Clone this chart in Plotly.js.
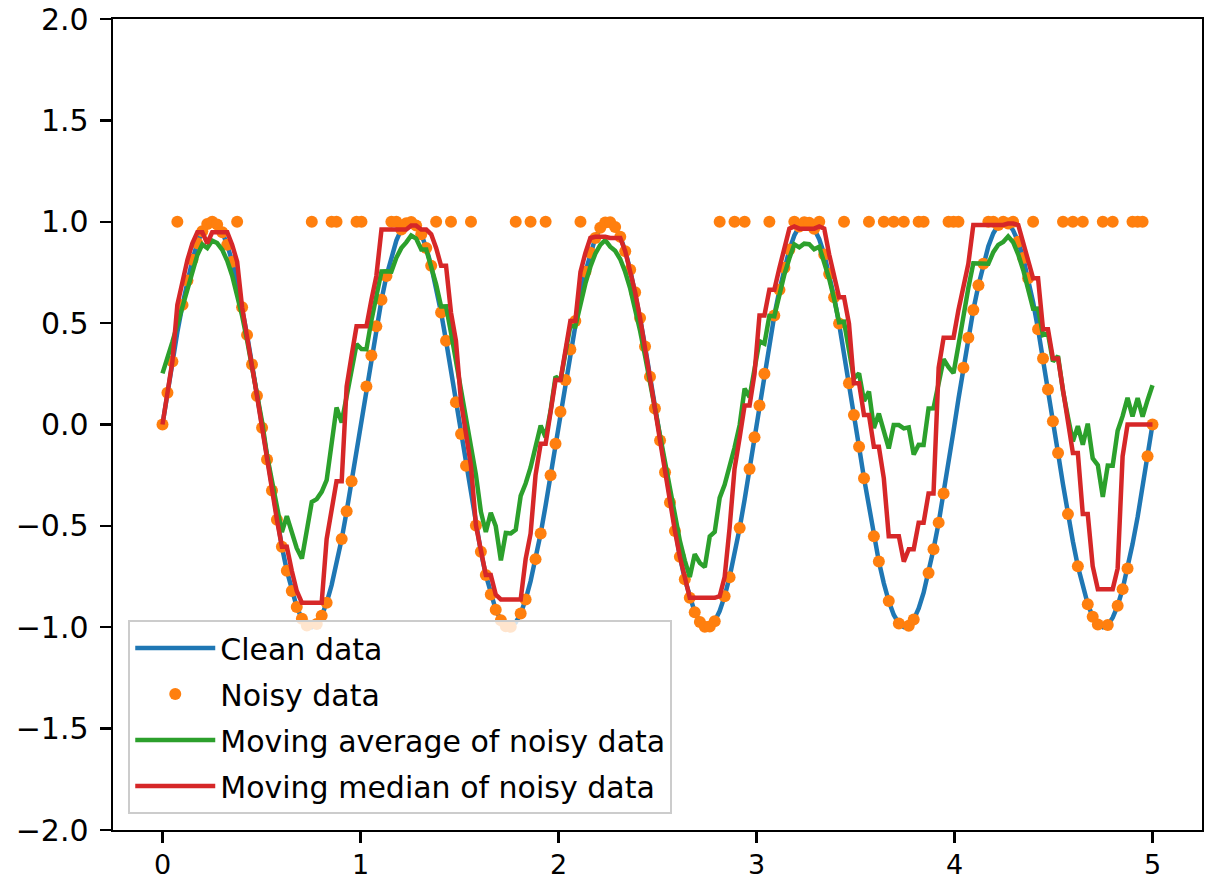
<!DOCTYPE html>
<html>
<head>
<meta charset="utf-8">
<script src="https://cdn.plot.ly/plotly-3.0.1.min.js"></script>
<style>html,body{margin:0;padding:0;background:#fff;}#chart{width:1214px;height:882px;}</style>
</head>
<body>
<div id="chart"></div>
<script>
// x positions of the samples (0 .. 5, 200 samples)
const xValues = [0,0.025,0.05,0.075,0.101,0.126,0.151,0.176,0.201,0.226,
0.251,0.276,0.302,0.327,0.352,0.377,0.402,0.427,0.452,0.477,
0.503,0.528,0.553,0.578,0.603,0.628,0.653,0.678,0.704,0.729,
0.754,0.779,0.804,0.829,0.854,0.879,0.905,0.93,0.955,0.98,
1.005,1.03,1.055,1.08,1.106,1.131,1.156,1.181,1.206,1.231,
1.256,1.281,1.307,1.332,1.357,1.382,1.407,1.432,1.457,1.482,
1.508,1.533,1.558,1.583,1.608,1.633,1.658,1.683,1.709,1.734,
1.759,1.784,1.809,1.834,1.859,1.884,1.91,1.935,1.96,1.985,
2.01,2.035,2.06,2.085,2.111,2.136,2.161,2.186,2.211,2.236,
2.261,2.286,2.312,2.337,2.362,2.387,2.412,2.437,2.462,2.487,
2.513,2.538,2.563,2.588,2.613,2.638,2.663,2.688,2.714,2.739,
2.764,2.789,2.814,2.839,2.864,2.889,2.915,2.94,2.965,2.99,
3.015,3.04,3.065,3.09,3.116,3.141,3.166,3.191,3.216,3.241,
3.266,3.291,3.317,3.342,3.367,3.392,3.417,3.442,3.467,3.492,
3.518,3.543,3.568,3.593,3.618,3.643,3.668,3.693,3.719,3.744,
3.769,3.794,3.819,3.844,3.869,3.894,3.92,3.945,3.97,3.995,
4.02,4.045,4.07,4.095,4.121,4.146,4.171,4.196,4.221,4.246,
4.271,4.296,4.322,4.347,4.372,4.397,4.422,4.447,4.472,4.497,
4.523,4.548,4.573,4.598,4.623,4.648,4.673,4.698,4.724,4.749,
4.774,4.799,4.824,4.849,4.874,4.899,4.925,4.95,4.975,5];

const cleanData = [0,.157,.311,.456,.590,.710,.812,.894,.953,.989,
1,.986,.948,.886,.803,.699,.578,.442,.296,.142,
-.016,-.173,-.325,-.470,-.603,-.721,-.821,-.900,-.958,-.991,
-1,-.984,-.943,-.879,-.793,-.687,-.565,-.428,-.280,-.126,
.032,.188,.340,.484,.615,.732,.830,.907,.962,.993,
.999,.981,.938,.871,.783,.676,.552,.413,.265,.110,
-.047,-.204,-.355,-.498,-.628,-.742,-.839,-.914,-.966,-.995,
-.998,-.977,-.932,-.863,-.773,-.664,-.538,-.399,-.250,-.095,
.063,.219,.370,.511,.640,.753,.847,.920,.970,.996,
.997,.974,.926,.855,.763,.652,.525,.385,.235,.079,
-.079,-.235,-.385,-.525,-.652,-.763,-.855,-.926,-.974,-.997,
-.996,-.970,-.920,-.847,-.753,-.640,-.511,-.370,-.219,-.063,
.094,.250,.399,.538,.664,.773,.863,.932,.977,.998,
.995,.966,.914,.839,.742,.628,.498,.355,.204,.047,
-.110,-.265,-.413,-.551,-.676,-.783,-.871,-.938,-.981,-.999,
-.993,-.962,-.907,-.830,-.732,-.615,-.484,-.340,-.188,-.032,
.126,.280,.428,.565,.687,.793,.879,.943,.984,1,
.991,.958,.901,.821,.721,.603,.470,.326,.173,.016,
-.141,-.295,-.442,-.577,-.699,-.803,-.886,-.948,-.986,-1,
-.989,-.953,-.894,-.812,-.710,-.591,-.456,-.311,-.157,0];

const noisyData = [0,.157,.311,1,.590,.710,.812,.894,.953,.989,
1,.986,.948,.886,.803,1,.578,.442,.296,.142,
-.016,-.173,-.325,-.470,-.603,-.721,-.821,-.900,-.958,-.991,
1,-.984,-.943,-.879,1,1,-.565,-.428,-.280,1,
1,.188,.340,.484,.615,.732,1,1,.962,.993,
.999,.981,.938,.871,.783,1,.552,.413,1,.110,
-.047,-.204,1,-.498,-.628,-.742,-.839,-.914,-.966,-.995,
-.998,1,-.932,-.863,1,-.664,-.538,1,-.250,-.095,
.063,.219,.370,.511,1,.753,.847,.920,.970,.996,
.997,.974,.926,.855,.763,.652,.525,.385,.235,.079,
-.079,-.235,-.385,-.525,-.652,-.763,-.855,-.926,-.974,-.997,
-.996,-.970,1,-.847,-.753,1,-.511,1,-.219,-.063,
.094,.250,1,.538,.664,.773,.863,1,.977,.998,
.995,.966,1,.839,.742,.628,.498,1,.204,.047,
-.110,-.265,1,-.551,-.676,1,-.871,1,-.981,1,
-.993,-.962,1,1,-.732,-.615,-.484,-.340,1,1,
1,.280,.428,.565,.687,.793,1,1,.984,1,
.991,1,.901,.821,.721,1,.470,.326,.173,.016,
-.141,1,-.442,1,-.699,1,-.886,-.948,-.986,1,
-.989,1,-.894,-.812,-.710,1,1,1,-.157,0];

const movingAverage = [.252,.325,.407,.493,.583,.674,.764,.836,.888,.870,
.907,.895,.861,.807,.734,.642,.536,.416,.287,.152,
.013,-.152,-.286,-.414,-.531,-.452,-.540,-.610,-.661,-.527,
-.382,-.368,-.332,-.275,-.097,.084,.010,.130,.261,.396,
.372,.371,.513,.640,.755,.756,.754,.822,.870,.898,
.932,.917,.863,.863,.785,.691,.582,.583,.453,.316,
.178,.011,-.122,-.248,-.430,-.530,-.435,-.501,-.670,-.535,
-.537,-.519,-.352,-.291,-.212,-.116,-.005,-.063,.068,.237,
.215,.353,.486,.483,.596,.696,.778,.842,.886,.909,
.877,.857,.815,.752,.671,.574,.462,.339,.207,.070,
-.070,-.207,-.339,-.462,-.574,-.671,-.752,-.640,-.683,-.703,
-.552,-.530,-.362,-.297,-.215,-.115,-.002,.177,.135,.273,
.411,.399,.536,.534,.645,.741,.820,.889,.874,.892,
.889,.864,.877,.804,.719,.619,.504,.507,.366,.228,
.252,.116,.162,-.018,.054,-.041,-.118,-.003,-.003,-.019,
-.014,-.148,-.100,-.101,.079,.080,.195,.322,.283,.253,
.392,.538,.674,.795,.794,.794,.793,.850,.886,.900,
.928,.899,.838,.762,.674,.571,.572,.441,.449,.311,
.337,.165,.036,-.083,-.008,-.100,.004,-.167,-.201,-.357,
-.202,-.203,-.031,.041,.131,.040,.130,.039,.120,.194];

const movingMedian = [0,.157,.311,.590,.710,.812,.894,.948,.948,.894,
.948,.948,.948,.948,.886,.803,.578,.442,.296,.142,
-.016,-.173,-.325,-.470,-.603,-.603,-.721,-.821,-.879,-.879,
-.879,-.879,-.879,-.565,-.428,-.280,-.280,.188,.340,.484,
.484,.484,.615,.732,.962,.962,.962,.962,.962,.962,
.981,.981,.962,.962,.938,.871,.783,.783,.552,.413,
.110,-.047,-.204,-.498,-.628,-.742,-.742,-.839,-.863,-.863,
-.863,-.863,-.863,-.664,-.538,-.250,-.095,-.095,.063,.219,
.219,.370,.511,.511,.753,.847,.920,.926,.926,.926,
.920,.920,.920,.855,.763,.652,.525,.385,.235,.079,
-.079,-.235,-.385,-.525,-.652,-.763,-.855,-.855,-.855,-.855,
-.855,-.855,-.847,-.753,-.511,-.219,-.063,.094,.094,.250,
.538,.538,.664,.664,.773,.863,.966,.977,.966,.966,
.966,.966,.977,.966,.839,.742,.628,.628,.498,.204,
.204,.047,.047,-.110,-.110,-.265,-.551,-.551,-.551,-.676,
-.615,-.615,-.484,-.484,-.340,-.340,.280,.428,.428,.428,
.565,.687,.793,.984,.984,.984,.984,.984,.984,.984,
.991,.991,.984,.901,.821,.721,.721,.470,.470,.326,
.326,.173,.016,-.141,-.141,-.442,-.442,-.699,-.812,-.812,
-.812,-.812,-.710,-.157,0,0,0,0,0,0];

const seriesNames = ['Clean data', 'Noisy data', 'Moving average of noisy data', 'Moving median of noisy data'];
const seriesColors = ['#1f77b4', '#ff7f0e', '#2ca02c', '#d62728'];
const xTickVals = [0, 1, 2, 3, 4, 5];
const xTickText = ['0', '1', '2', '3', '4', '5'];
const yTickVals = [-2, -1.5, -1, -0.5, 0, 0.5, 1, 1.5, 2];
const yTickText = ['\u22122.0', '\u22121.5', '\u22121.0', '\u22120.5', '0.0', '0.5', '1.0', '1.5', '2.0'];

const LW = 4.5;
const traces = [
  {type:'scatter', mode:'lines', x:xValues, y:cleanData, name:seriesNames[0], legendgroup:'g0',
   line:{color:seriesColors[0], width:LW}},
  {type:'scatter', mode:'markers', x:xValues, y:noisyData, name:seriesNames[1], legendgroup:'g1',
   marker:{color:seriesColors[1], size:12, line:{width:0}}},
  {type:'scatter', mode:'lines', x:xValues, y:movingAverage, name:seriesNames[2], legendgroup:'g2',
   line:{color:seriesColors[2], width:LW}},
  {type:'scatter', mode:'lines', x:xValues, y:movingMedian, name:seriesNames[3], legendgroup:'g3',
   line:{color:seriesColors[3], width:LW}}
];

const axisCommon = {
  ticks:'outside', ticklen:11, tickwidth:2.4, tickcolor:'#000',
  showline:true, linecolor:'#000', linewidth:2.4, mirror:true,
  showgrid:false, zeroline:false
};

const layout = {
  width:1214, height:882,
  margin:{l:113, r:12, t:19, b:52, pad:0},
  paper_bgcolor:'#ffffff', plot_bgcolor:'#ffffff',
  font:{family:'DejaVu Sans', size:30, color:'#000'},
  showlegend:true,
  legend:{x:0.014, y:0.259, xanchor:'left', yanchor:'top',
          bgcolor:'rgba(255,255,255,0.8)', bordercolor:'#cccccc', borderwidth:2,
          font:{family:'DejaVu Sans', size:30, color:'#000'},
          traceorder:'grouped', tracegroupgap:4, itemwidth:80},
  xaxis:Object.assign({range:[-0.25, 5.25], tickmode:'array', tickvals:xTickVals, ticktext:xTickText,
          tickfont:{family:'DejaVu Sans', size:27, color:'#000'}, ticklabelstandoff:-2}, axisCommon),
  yaxis:Object.assign({range:[-2, 2], tickmode:'array', tickvals:yTickVals, ticktext:yTickText,
          tickfont:{family:'DejaVu Sans', size:30, color:'#000'}, ticklabelstandoff:5}, axisCommon)
};

Plotly.newPlot('chart', traces, layout, {displayModeBar:false, staticPlot:true});
</script>
</body>
</html>
